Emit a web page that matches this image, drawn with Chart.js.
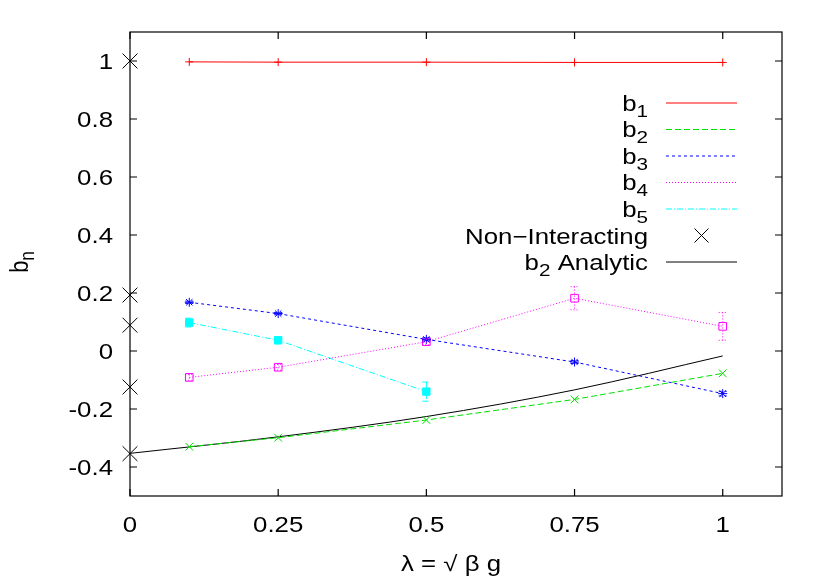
<!DOCTYPE html>
<html>
<head>
<meta charset="utf-8">
<script src="https://cdn.jsdelivr.net/npm/chart.js@4.4.0/dist/chart.umd.min.js"></script>
<style>
html,body{margin:0;padding:0;background:#fff;}
#wrap{width:830px;height:581px;}
</style>
</head>
<body>
<div id="wrap"><canvas id="bnChart" width="830" height="581"></canvas></div>
<script>
// valores
const lambdaVals = [0.1, 0.25, 0.5, 0.75, 1];
const b1Vals = [0.997, 0.996, 0.996, 0.995, 0.995];
const b2Vals = [-0.330, -0.299, -0.238, -0.167, -0.077];
const b3Vals = [0.168, 0.129, 0.040, -0.038, -0.147];
const b3Err = [0.004, 0.004, 0.005, 0.005, 0.008];
const b4Vals = [-0.091, -0.056, 0.032, 0.182, 0.085];
const b4Err = [0.010, 0.010, 0.010, 0.040, 0.048];
const b5Lambda = [0.1, 0.25, 0.5];
const b5Vals = [0.098, 0.037, -0.140];
const b5Err = [0.015, 0.012, 0.033];
const nonIntVals = [1, 0.193, 0.089, -0.124, -0.354];
const analyticLambda = [0, 0.25, 0.5, 0.75, 1];
const analyticVals = [-0.353, -0.296, -0.226, -0.134, -0.017];
const xTicks = [0, 0.25, 0.5, 0.75, 1];
const yTicks = [-0.4, -0.2, 0, 0.2, 0.4, 0.6, 0.8, 1];

const FONT = '"Liberation Sans", Arial, Helvetica, sans-serif';
const FSIZE = 21.7;
const SX = 1.19; // el texto del original sale estirado en horizontal

function pts(xs, ys) {
    return xs.map((x, i) => ({ x: x, y: ys[i] }));
}

const datasets = [
    { label: 'b1', data: pts(lambdaVals, b1Vals), borderColor: '#ff0000', backgroundColor: '#ff0000',
      borderWidth: 1, pointStyle: 'cross', pointRadius: 4, pointBorderWidth: 1, legendSub: '1' },
    { label: 'b2', data: pts(lambdaVals, b2Vals), borderColor: '#00e000', backgroundColor: '#00e000',
      borderWidth: 1, borderDash: [6, 3], pointStyle: 'crossRot', pointRadius: 5.5, pointBorderWidth: 1, legendSub: '2' },
    { label: 'b3', data: pts(lambdaVals, b3Vals), errs: b3Err, borderColor: '#0000ff', backgroundColor: '#0000ff',
      borderWidth: 1, borderDash: [3, 3], pointStyle: 'star', pointRadius: 4.5, pointBorderWidth: 1, legendSub: '3' },
    { label: 'b4', data: pts(lambdaVals, b4Vals), errs: b4Err, borderColor: '#ff00ff', backgroundColor: 'rgba(0,0,0,0)',
      borderWidth: 1, borderDash: [1, 2], pointStyle: 'rect', pointRadius: 5.4, pointBorderWidth: 1, legendSub: '4' },
    { label: 'b5', data: pts(b5Lambda, b5Vals), errs: b5Err, borderColor: '#00ffff', backgroundColor: '#00ffff',
      borderWidth: 1, borderDash: [6, 2, 1, 2], pointStyle: 'rect', pointRadius: 5.2, pointBorderWidth: 1, legendSub: '5' },
    { label: 'Non\u2212Interacting', data: nonIntVals.map(v => ({ x: 0, y: v })), borderColor: '#000000',
      backgroundColor: '#000000', showLine: false, pointStyle: 'crossRot', pointRadius: 10.5, pointBorderWidth: 1, clip: false },
    { label: 'b2 Analytic', data: pts(analyticLambda, analyticVals), borderColor: '#000000', backgroundColor: '#000000',
      borderWidth: 1, pointRadius: 0, cubicInterpolationMode: 'monotone', legendSub: '2', legendRest: ' Analytic' }
];

// texto estirado en x
function stretchText(ctx, text, x, y, size, align) {
    ctx.font = size + 'px ' + FONT;
    const w = ctx.measureText(text).width * SX;
    let x0 = x;
    if (align === 'right') x0 = x - w;
    else if (align === 'center') x0 = x - w / 2;
    ctx.save();
    ctx.translate(x0, y);
    ctx.scale(SX, 1);
    ctx.textAlign = 'left';
    ctx.textBaseline = 'alphabetic';
    ctx.fillText(text, 0, 0);
    ctx.restore();
    return w;
}

function subTextWidth(ctx, base, sub, rest, size) {
    ctx.font = size + 'px ' + FONT;
    let w = ctx.measureText(base + (rest || '')).width;
    if (sub) {
        ctx.font = (size * 0.8) + 'px ' + FONT;
        w += ctx.measureText(sub).width;
    }
    return w * SX;
}

function drawSubText(ctx, x, y, base, sub, rest, size, align) {
    const total = subTextWidth(ctx, base, sub, rest, size);
    let sx = align === 'right' ? x - total : x - total / 2;
    sx += stretchText(ctx, base, sx, y, size, 'left');
    if (sub) sx += stretchText(ctx, sub, sx, y + 6, size * 0.8, 'left');
    if (rest) stretchText(ctx, rest, sx, y, size, 'left');
}

function fmt(v) {
    return String(parseFloat(v.toFixed(2)));
}

// marco con marcas hacia dentro en los cuatro lados + etiquetas
const framePlugin = {
    id: 'frame',
    afterDatasetsDraw(chart) {
        const { ctx, chartArea: a, scales } = chart;
        ctx.save();
        ctx.strokeStyle = '#000';
        ctx.lineWidth = 1.2;
        ctx.setLineDash([]);
        ctx.strokeRect(a.left, a.top, a.right - a.left, a.bottom - a.top);
        const tl = 7;
        ctx.beginPath();
        scales.x.ticks.forEach(t => {
            const px = scales.x.getPixelForValue(t.value);
            ctx.moveTo(px, a.bottom); ctx.lineTo(px, a.bottom - tl);
            ctx.moveTo(px, a.top); ctx.lineTo(px, a.top + tl);
        });
        scales.y.ticks.forEach(t => {
            const py = scales.y.getPixelForValue(t.value);
            ctx.moveTo(a.left, py); ctx.lineTo(a.left + tl, py);
            ctx.moveTo(a.right, py); ctx.lineTo(a.right - tl, py);
        });
        ctx.stroke();
        ctx.fillStyle = '#000';
        scales.x.ticks.forEach(t => {
            stretchText(ctx, fmt(t.value), scales.x.getPixelForValue(t.value), a.bottom + 36, FSIZE, 'center');
        });
        scales.y.ticks.forEach(t => {
            stretchText(ctx, fmt(t.value), a.left - 17, scales.y.getPixelForValue(t.value) + 8, FSIZE, 'right');
        });
        ctx.restore();
    }
};

// barras de error
const errorPlugin = {
    id: 'errbars',
    afterDatasetsDraw(chart) {
        const { ctx, scales } = chart;
        ctx.save();
        chart.data.datasets.forEach(ds => {
            if (!ds.errs) return;
            ctx.strokeStyle = ds.borderColor;
            ctx.lineWidth = 1;
            ctx.setLineDash(ds.borderDash || []);
            ds.data.forEach((p, i) => {
                const e = ds.errs[i];
                const px = scales.x.getPixelForValue(p.x);
                const y1 = scales.y.getPixelForValue(p.y + e);
                const y2 = scales.y.getPixelForValue(p.y - e);
                ctx.beginPath();
                ctx.moveTo(px, y1); ctx.lineTo(px, y2);
                ctx.moveTo(px - 4, y1); ctx.lineTo(px + 4, y1);
                ctx.moveTo(px - 4, y2); ctx.lineTo(px + 4, y2);
                ctx.stroke();
            });
        });
        ctx.restore();
    }
};

// leyenda al estilo gnuplot: texto alineado a la derecha, muestra a su derecha
const legendPlugin = {
    id: 'gpLegend',
    afterDraw(chart) {
        const ctx = chart.ctx;
        const textRight = 648, x1 = 666, x2 = 737;
        const top = 103, step = 26.5;
        ctx.save();
        ctx.fillStyle = '#000';
        chart.data.datasets.forEach((ds, i) => {
            const yy = top + i * step;
            ctx.fillStyle = '#000';
            if (ds.legendSub) {
                drawSubText(ctx, textRight, yy + 7.5, 'b', ds.legendSub, ds.legendRest || '', FSIZE, 'right');
            } else {
                drawSubText(ctx, textRight, yy + 8, ds.label, '', '', FSIZE, 'right');
            }
            ctx.strokeStyle = ds.borderColor;
            ctx.lineWidth = 1;
            if (ds.showLine === false) {
                const cx = (x1 + x2) / 2, r = 7;
                ctx.setLineDash([]);
                ctx.beginPath();
                ctx.moveTo(cx - r, yy - r); ctx.lineTo(cx + r, yy + r);
                ctx.moveTo(cx - r, yy + r); ctx.lineTo(cx + r, yy - r);
                ctx.stroke();
            } else {
                ctx.setLineDash(ds.borderDash || []);
                ctx.beginPath();
                ctx.moveTo(x1, yy); ctx.lineTo(x2, yy);
                ctx.stroke();
            }
        });
        ctx.setLineDash([]);
        ctx.fillStyle = '#000';
        // titulo eje y (girado; el estiramiento cae en la x de pantalla)
        ctx.save();
        ctx.translate(28, 262);
        ctx.scale(SX, 1);
        ctx.rotate(-Math.PI / 2);
        ctx.font = FSIZE + 'px ' + FONT;
        const wb = ctx.measureText('b').width;
        ctx.font = (FSIZE * 0.8) + 'px ' + FONT;
        const wn = ctx.measureText('n').width;
        const start = -(wb + wn) / 2;
        ctx.textAlign = 'left';
        ctx.textBaseline = 'alphabetic';
        ctx.font = FSIZE + 'px ' + FONT;
        ctx.fillText('b', start, 0);
        ctx.font = (FSIZE * 0.8) + 'px ' + FONT;
        ctx.fillText('n', start + wb, 5);
        ctx.restore();
        // titulo eje x
        stretchText(ctx, '\u03bb = \u221a \u03b2 g', 451, 571, FSIZE, 'center');
        ctx.restore();
    }
};

const ctx = document.getElementById('bnChart').getContext('2d');
const myChart = new Chart(ctx, {
    type: 'scatter',
    data: { datasets: datasets.map(d => Object.assign({ showLine: true, fill: false, tension: 0 }, d)) },
    options: {
        responsive: false,
        animation: false,
        layout: { padding: { left: 0, right: 48, top: 32, bottom: 0 } },
        plugins: { legend: { display: false }, tooltip: { enabled: false } },
        scales: {
            x: {
                type: 'linear', min: 0, max: 1.1,
                afterBuildTicks: s => { s.ticks = xTicks.map(v => ({ value: v })); },
                afterFit: s => { s.height = 85; },
                grid: { display: false, drawTicks: false },
                border: { display: false },
                ticks: { display: false }
            },
            y: {
                type: 'linear', min: -0.5, max: 1.1,
                afterBuildTicks: s => { s.ticks = yTicks.map(v => ({ value: v })); },
                afterFit: s => { s.width = 130; },
                grid: { display: false, drawTicks: false },
                border: { display: false },
                ticks: { display: false }
            }
        }
    },
    plugins: [errorPlugin, framePlugin, legendPlugin]
});
</script>
</body>
</html>
